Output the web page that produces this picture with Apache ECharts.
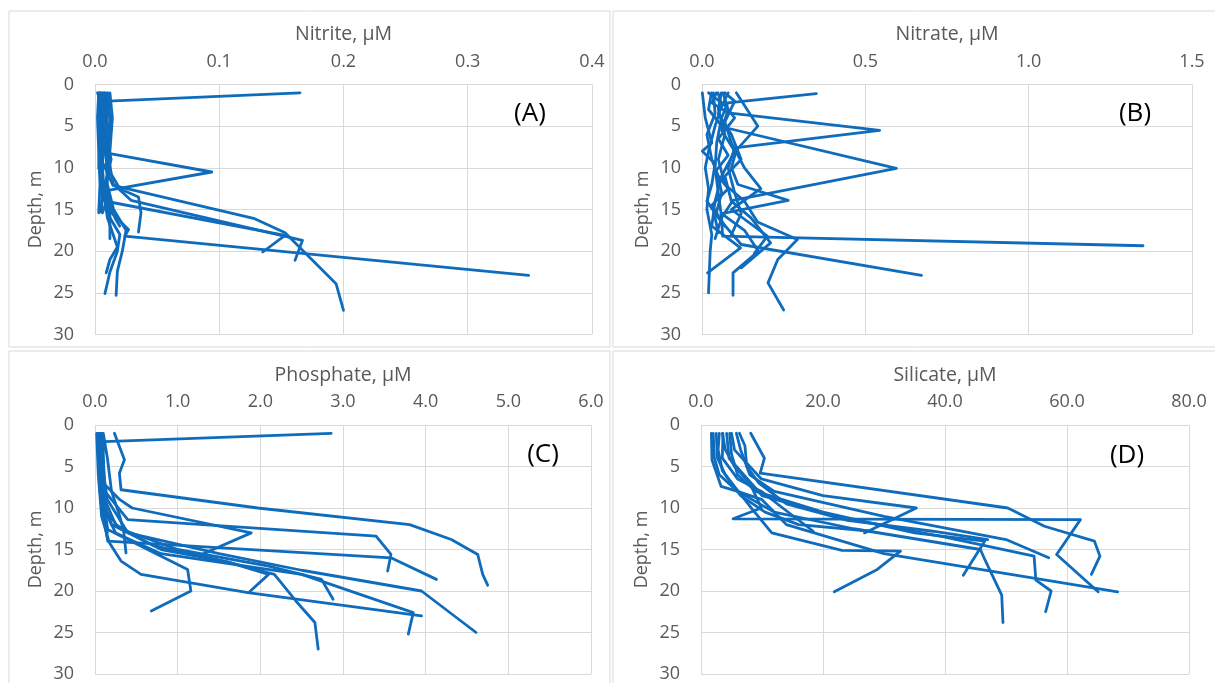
<!DOCTYPE html>
<html>
<head>
<meta charset="utf-8">
<script src="https://cdn.jsdelivr.net/npm/echarts@6/dist/echarts.min.js"></script>
<style>
  html, body { margin: 0; padding: 0; background: #fff; }
  #chart { width: 1215px; height: 683px; }
</style>
</head>
<body>
<div id="chart"></div>
<script>
// depth axis (m), shared by all four panels
const depthTicks = [0, 5, 10, 15, 20, 25, 30]

// concentration tick labels per panel
const nitriteTicks = [0, 0.1, 0.2, 0.3, 0.4]
const nitrateTicks = [0, 0.5, 1.0, 1.5]
const phosphateTicks = [0, 1, 2, 3, 4, 5, 6]
const silicateTicks = [0, 20, 40, 60, 80]

// station profiles: [concentration µM, depth m]
const nitrite = [
  [[0.165, 1.0], [0.0105, 2.0], [0.006, 3.5], [0.008, 6], [0.006, 9], [0.005, 12], [0.006, 14]],
  [[0.004, 1], [0.005, 3], [0.007, 6], [0.012, 8.3], [0.094, 10.5], [0.0105, 12.7], [0.008, 14.5], [0.006, 15.4]],
  [[0.006, 1], [0.005, 5], [0.004, 9], [0.006, 13], [0.014, 15.5], [0.027, 17.4], [0.024, 18.2], [0.349, 22.9]],
  [[0.008, 1], [0.006, 5], [0.005, 9], [0.0145, 12.1], [0.1285, 16.1], [0.153, 17.8], [0.171, 20.5], [0.194, 23.9], [0.2, 27.1]],
  [[0.01, 1], [0.012, 4], [0.01, 8], [0.0145, 11.9], [0.029, 13.9], [0.167, 18.7], [0.161, 21.1]],
  [[0.003, 1], [0.004, 5], [0.003, 10], [0.0118, 14.1], [0.153, 18.1], [0.135, 20.1]],
  [[0.007, 1], [0.009, 5], [0.01, 10], [0.02, 12.5], [0.035, 13.5], [0.037, 15.4], [0.035, 17.7]],
  [[0.004, 1], [0.005, 5], [0.006, 10], [0.008, 14], [0.012, 16], [0.02, 18], [0.018, 20], [0.012, 22.5], [0.008, 25.1]],
  [[0.006, 1], [0.008, 6], [0.01, 12], [0.015, 15], [0.025, 17.5], [0.022, 20], [0.018, 22.4], [0.017, 25.3]],
  [[0.005, 1], [0.004, 6], [0.006, 12], [0.01, 16], [0.018, 19.5], [0.012, 21], [0.009, 22.6]],
  [[0.003, 1], [0.002, 4], [0.003, 8], [0.004, 12], [0.003, 15.4]],
  [[0.012, 1], [0.014, 4], [0.012, 8], [0.01, 11], [0.006, 13], [0.005, 15.3]],
  [[0.008, 1], [0.01, 3], [0.009, 6], [0.013, 9], [0.008, 12], [0.012, 15], [0.012, 18.5]],
  [[0.01, 1], [0.011, 3], [0.013, 5], [0.011, 7], [0.012, 10], [0.009, 12], [0.011, 14], [0.016, 16], [0.02, 17]],
  [[0.002, 1], [0.006, 2.5], [0.004, 5], [0.008, 7.5], [0.005, 10], [0.007, 13], [0.004, 15]],
]

const nitrate = [
  [[0.35, 1.1], [0.079, 2.2], [0.06, 4], [0.045, 7], [0.04, 10], [0.05, 13], [0.06, 16], [0.04, 18.5]],
  [[0.044, 1], [0.03, 2.2], [0.08, 3.4], [0.544, 5.5], [0.1, 7.6], [0.08, 10], [0.1, 13], [0.12, 15.5], [0.09, 18]],
  [[0.029, 1], [0.02, 3], [0.063, 5.1], [0.595, 10.06], [0.095, 13.9], [0.06, 16], [0.063, 18.2], [1.35, 19.35]],
  [[0.105, 1], [0.171, 5.0], [0.105, 7.9], [0.09, 10], [0.11, 12], [0.264, 13.9], [0.06, 15.5], [0.13, 17.5], [0.173, 20], [0.095, 22.6], [0.095, 25.3]],
  [[0.001, 1], [0.01, 4], [0.03, 7], [0.001, 8], [0.04, 9.5], [0.03, 12], [0.015, 14], [0.05, 16], [0.12, 19.2], [0.672, 22.9]],
  [[0.059, 1], [0.05, 3], [0.07, 6], [0.05, 9], [0.07, 12], [0.13, 14], [0.17, 16.5], [0.292, 18.6], [0.232, 21], [0.202, 23.8], [0.25, 27.06]],
  [[0.064, 1], [0.08, 3], [0.06, 5.5], [0.1, 8], [0.06, 11], [0.04, 14], [0.03, 17], [0.118, 19.6], [0.017, 22.6]],
  [[0.049, 1], [0.06, 2.5], [0.04, 5], [0.02, 8], [0.01, 10], [0.02, 12.5], [0.015, 15], [0.03, 18], [0.025, 20], [0.02, 25]],
  [[0.07, 1], [0.1, 2], [0.07, 4.5], [0.09, 7], [0.13, 10], [0.18, 12.5], [0.09, 15], [0.2, 18.2], [0.16, 20.3]],
  [[0.035, 1], [0.04, 3.5], [0.015, 6], [0.03, 9], [0.05, 11], [0.06, 13], [0.04, 16], [0.05, 17.8]],
  [[0.08, 1], [0.05, 3.5], [0.09, 6], [0.12, 9], [0.07, 11], [0.09, 14], [0.15, 16], [0.21, 19], [0.12, 22]],
  [[0.02, 1], [0.07, 2.5], [0.1, 4], [0.05, 6.5], [0.08, 8.5], [0.04, 10.5], [0.08, 12.5], [0.03, 14.5], [0.07, 17]],
]

const phosphate = [
  [[2.857, 1.0], [0.114, 2.0], [0.08, 5], [0.06, 8], [0.1, 11], [0.15, 13]],
  [[0.235, 1.0], [0.356, 4.2], [0.295, 5.8], [0.315, 7.8], [1.97, 10.0], [3.806, 12.0], [4.31, 13.8], [4.63, 15.6], [4.69, 18], [4.75, 19.3]],
  [[0.05, 1], [0.08, 4], [0.1, 7], [0.3, 9], [0.45, 10], [1.89, 13], [1.29, 15.6]],
  [[0.06, 1], [0.1, 4], [0.12, 8], [0.396, 11.4], [3.4, 13.4], [3.58, 15.6], [3.54, 17.6]],
  [[0.04, 1], [0.05, 5], [0.08, 9], [0.12, 12], [0.154, 14], [3.58, 16], [4.13, 18.6]],
  [[0.07, 1], [0.09, 5], [0.15, 9], [0.4, 13], [1.5, 15.5], [2.5, 17.5], [3.95, 20], [4.61, 25]],
  [[0.03, 1], [0.05, 6], [0.1, 10], [0.25, 13], [0.8, 15.5], [2.5, 18], [3.85, 22.6], [3.79, 25.2]],
  [[0.02, 1], [0.04, 6], [0.08, 11], [0.174, 14.2], [0.315, 16.4], [0.557, 18], [1.85, 20.2], [3.95, 23]],
  [[0.08, 1], [0.1, 4], [0.12, 9], [0.25, 12], [0.7, 14.5], [1.6, 16.5], [2.17, 18], [2.43, 21.2], [2.66, 23.8], [2.7, 27]],
  [[0.05, 1], [0.07, 5], [0.1, 10], [0.3, 12.5], [1.0, 15], [2.1, 17], [2.74, 18.6], [2.88, 21]],
  [[0.06, 1], [0.08, 5], [0.1, 9], [0.154, 12.6], [1.12, 17.4], [1.16, 20], [0.68, 22.4]],
  [[0.04, 1], [0.06, 5], [0.1, 9], [0.2, 12], [0.8, 15], [1.6, 16.5], [2.1, 18], [1.87, 20.1]],
  [[0.1, 1], [0.15, 4], [0.2, 8], [0.3, 11], [0.35, 13], [0.375, 15.4]],
]

const silicate = [
  [[8.15, 1], [10.4, 4], [9.7, 5.8], [50.3, 10], [56.3, 12.2], [64.5, 14], [65.4, 15.8], [64, 18]],
  [[3.5, 1], [4, 3], [5.5, 5], [8, 7], [9.9, 10], [5.25, 11.3], [62.2, 11.4], [58.3, 15.6], [65.1, 20.1]],
  [[1.7, 1], [1.8, 4.2], [3.3, 7.4], [6, 8], [10, 9], [14, 12], [30, 15.5], [68.3, 20.1]],
  [[2.0, 1], [2.2, 4], [3, 6], [6, 8], [12, 10.5], [25, 12.5], [45.8, 15], [46.4, 16], [49.3, 20.5], [49.5, 23.8]],
  [[4.7, 1], [5, 3.5], [6, 6], [9, 8], [20, 10.5], [35, 13], [46.5, 14], [43, 18.1]],
  [[4.2, 1], [4.6, 4], [7, 6], [10, 8.5], [22, 11], [40, 13.5], [54.6, 15.8], [54.9, 18.7], [57.4, 20], [56.5, 22.5]],
  [[5.8, 1], [6.5, 3], [8, 6], [12, 8], [30, 11], [50, 13.8], [57, 16]],
  [[3.6, 1], [3.5, 4], [6, 6.5], [9.9, 8], [13.4, 10], [18.4, 12.8]],
  [[5.0, 1], [5.5, 3], [8, 5], [9.9, 6.5], [20, 8.5], [35.3, 10], [26.8, 13]],
  [[2.5, 1], [2.7, 4], [4, 6], [8.46, 10.2], [11.6, 13], [23.1, 15.1], [32.7, 15.2], [28.9, 17.4], [21.85, 20.1]],
  [[3.0, 1], [2.8, 3], [3.5, 5.5], [6.5, 8.5], [10.5, 10.5], [16, 12], [28, 12.8]],
  [[6.3, 1], [7.2, 2.5], [7.5, 5], [9.5, 7], [14, 9.5], [24, 11.5], [38, 12.8], [47, 13.8]],
]

const LINE = '#0f6cbd'
const TEXT = '#595959'
const GRIDLINE = '#d9d9d9'
const FONT = 'Open Sans, sans-serif'

const panels = [
  { title: 'Nitrite, µM', tag: '(A)', ticks: nitriteTicks, profiles: nitrite,
    grid: { left: 95, top: 84.5, width: 497, height: 250 }, tagAt: [530, 114], box: [9, 11, 601, 336] },
  { title: 'Nitrate, µM', tag: '(B)', ticks: nitrateTicks, profiles: nitrate,
    grid: { left: 702, top: 84.5, width: 490, height: 250 }, tagAt: [1135, 114], box: [613, 11, 610, 336] },
  { title: 'Phosphate, µM', tag: '(C)', ticks: phosphateTicks, profiles: phosphate,
    grid: { left: 95, top: 425, width: 496, height: 250 }, tagAt: [543, 455], box: [9, 351, 601, 340] },
  { title: 'Silicate, µM', tag: '(D)', ticks: silicateTicks, profiles: silicate,
    grid: { left: 701, top: 425, width: 488, height: 250 }, tagAt: [1127, 456], box: [613, 351, 610, 340] },
]

const chart = echarts.init(document.getElementById('chart'), null, { renderer: 'canvas' })

const grid = panels.map(p => ({ ...p.grid, containLabel: false }))

const xAxis = panels.map((p, i) => ({
  gridIndex: i,
  type: 'value',
  position: 'top',
  min: p.ticks[0],
  max: p.ticks[p.ticks.length - 1],
  interval: p.ticks[1] - p.ticks[0],
  name: p.title,
  nameLocation: 'middle',
  nameGap: 40,
  nameTextStyle: { color: TEXT, fontSize: 19.5, fontFamily: FONT },
  axisLine: { show: false },
  axisTick: { show: false },
  axisLabel: { color: TEXT, fontSize: 18, fontFamily: FONT, margin: 14, formatter: v => v.toFixed(1) },
  splitLine: { show: true, lineStyle: { color: GRIDLINE, width: 1 } },
}))

const yAxis = panels.map((p, i) => ({
  gridIndex: i,
  type: 'value',
  inverse: true,
  min: depthTicks[0],
  max: depthTicks[depthTicks.length - 1],
  interval: depthTicks[1] - depthTicks[0],
  name: 'Depth, m',
  nameLocation: 'middle',
  nameGap: 50,
  nameTextStyle: { color: TEXT, fontSize: 18, fontFamily: FONT },
  axisLine: { show: false },
  axisTick: { show: false },
  axisLabel: { color: TEXT, fontSize: 18, fontFamily: FONT, margin: 21 },
  splitLine: { show: true, lineStyle: { color: GRIDLINE, width: 1 } },
}))

const series = []
panels.forEach((p, i) => {
  p.profiles.forEach((profile, k) => {
    series.push({
      name: `${p.tag} ${k + 1}`,
      type: 'line',
      xAxisIndex: i,
      yAxisIndex: i,
      data: profile,
      showSymbol: false,
      symbol: 'none',
      silent: true,
      lineStyle: { color: LINE, width: 2.8, join: 'round', cap: 'round' },
    })
  })
})

const graphic = []
panels.forEach(p => {
  const [x, y, w, h] = p.box
  graphic.push({
    type: 'rect',
    shape: { x, y, width: w, height: h },
    style: { fill: 'none', stroke: GRIDLINE, lineWidth: 1 },
    silent: true,
    z: -1,
  })
  graphic.push({
    type: 'text',
    x: p.tagAt[0],
    y: p.tagAt[1],
    style: {
      text: p.tag,
      fill: '#000',
      font: `26px ${FONT}`,
      textAlign: 'center',
      textVerticalAlign: 'middle',
    },
    silent: true,
    z: 10,
  })
})

chart.setOption({
  animation: false,
  backgroundColor: '#fff',
  grid,
  xAxis,
  yAxis,
  series,
  graphic,
})
</script>
</body>
</html>
